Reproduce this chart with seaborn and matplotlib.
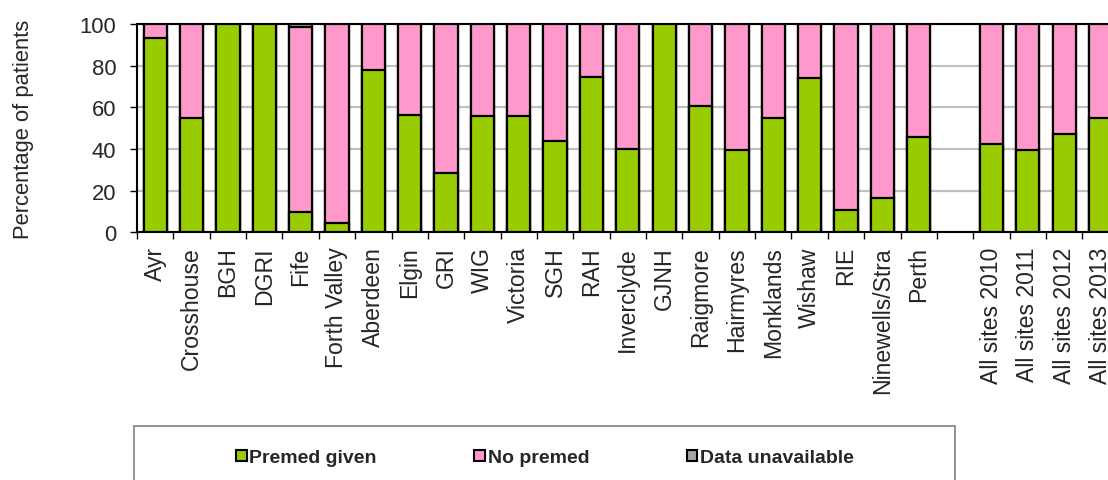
import numpy as np
import pandas as pd
import matplotlib
matplotlib.use("Agg")
import matplotlib.pyplot as plt
from matplotlib.patches import Rectangle, Patch
import seaborn as sns

categories = ["Ayr", "Crosshouse", "BGH", "DGRI", "Fife", "Forth Valley", "Aberdeen",
              "Elgin", "GRI", "WIG", "Victoria", "SGH", "RAH", "Inverclyde", "GJNH",
              "Raigmore", "Hairmyres", "Monklands", "Wishaw", "RIE", "Ninewells/Stra",
              "Perth", "", "All sites 2010", "All sites 2011", "All sites 2012",
              "All sites 2013"]
premed_given = [93.1, 55.1, 100, 100, 9.8, 4.6, 78.0, 56.3, 28.7, 56.0, 55.6, 43.9,
                74.7, 40.2, 100, 60.7, 39.6, 54.8, 73.9, 10.7, 16.3, 45.7, np.nan,
                42.6, 39.4, 47.4, 54.8]
no_premed = [6.9, 44.9, 0, 0, 88.6, 95.4, 22.0, 43.7, 71.3, 44.0, 44.4, 56.1,
             25.3, 59.8, 0, 39.3, 60.4, 45.2, 26.1, 89.3, 83.7, 54.3, np.nan,
             57.4, 60.6, 52.6, 45.2]
data_unavailable = [0, 0, 0, 0, 1.6, 0, 0, 0, 0, 0, 0, 0, 0, 0, 0, 0, 0, 0, 0, 0, 0,
                    0, np.nan, 0, 0, 0, 0]
series_names = ["Premed given", "No premed", "Data unavailable"]
colors = ["#99CC00", "#FF99CC", "#A6A6A6"]
yticks = [0, 20, 40, 60, 80, 100]

sns.set_style("white")
plt.rcParams["font.family"] = ["Liberation Sans", "DejaVu Sans"]

df = pd.DataFrame({
    "site": categories,
    "given": premed_given,
    "nopremed": no_premed,
    "unavail": data_unavailable,
})
df["top1"] = df["given"]
df["top2"] = df["given"] + df["nopremed"]
df["top3"] = df["top2"] + df["unavail"]
plot_df = df[df["site"] != ""]

W, H = 1108, 481
fig = plt.figure(figsize=(W / 100, H / 100), dpi=100)
ax = fig.add_axes([137 / W, 1 - 233.3 / H, 981.7 / W, 208.3 / H])

for col, c in zip(["top3", "top2", "top1"], [colors[2], colors[1], colors[0]]):
    sns.barplot(data=plot_df, x="site", y=col, order=categories, color=c,
                saturation=1, width=0.64, edgecolor="black", linewidth=1.6,
                errorbar=None, ax=ax, zorder=3)

ax.set_ylim(0, 100)
ax.set_xlim(-0.5, len(categories) - 0.5)
ax.set_yticks(yticks)
ax.set_yticklabels([str(v) for v in yticks], fontsize=15.8)
ax.yaxis.grid(True, color="#C0C0C0", linewidth=1.6, zorder=0)
ax.xaxis.grid(False)
ax.set_axisbelow(True)

ax.set_xticks(range(len(categories)))
ax.set_xticklabels(categories, rotation=90, fontsize=16.6, va="top")
ax.set_xticks(np.arange(-0.5, len(categories), 1), minor=True)
ax.tick_params(axis="x", which="major", length=0, pad=10)
ax.tick_params(axis="x", which="minor", bottom=True, length=5, width=1, color="black",
               direction="out")
ax.tick_params(axis="y", which="major", left=True, length=5, width=1, color="black",
               direction="out", pad=10)
ax.set_xlabel("")
ax.set_ylabel("Percentage of patients", fontsize=15.8, labelpad=33)

for s in ["top", "left", "bottom"]:
    ax.spines[s].set_visible(True)
    ax.spines[s].set_color("black")
    ax.spines[s].set_linewidth(1.5)
ax.spines["right"].set_visible(False)

# legend frame
fig.patches.append(Rectangle((134 / W, -0.1), 821 / W, 0.1 + (1 - 427 / H),
                             transform=fig.transFigure, fill=False,
                             edgecolor="#808080", linewidth=1.2))
handles = [Patch(facecolor=c, edgecolor="black", linewidth=1.5) for c in colors]
leg = fig.legend(handles, series_names, loc="center",
                 bbox_to_anchor=(545 / W, 1 - 459 / H), ncol=3, frameon=False,
                 prop={"weight": "bold", "size": 14}, handlelength=0.55,
                 handleheight=0.55, handletextpad=0.15, columnspacing=5.0)

fig.savefig("out.png", dpi=100)
